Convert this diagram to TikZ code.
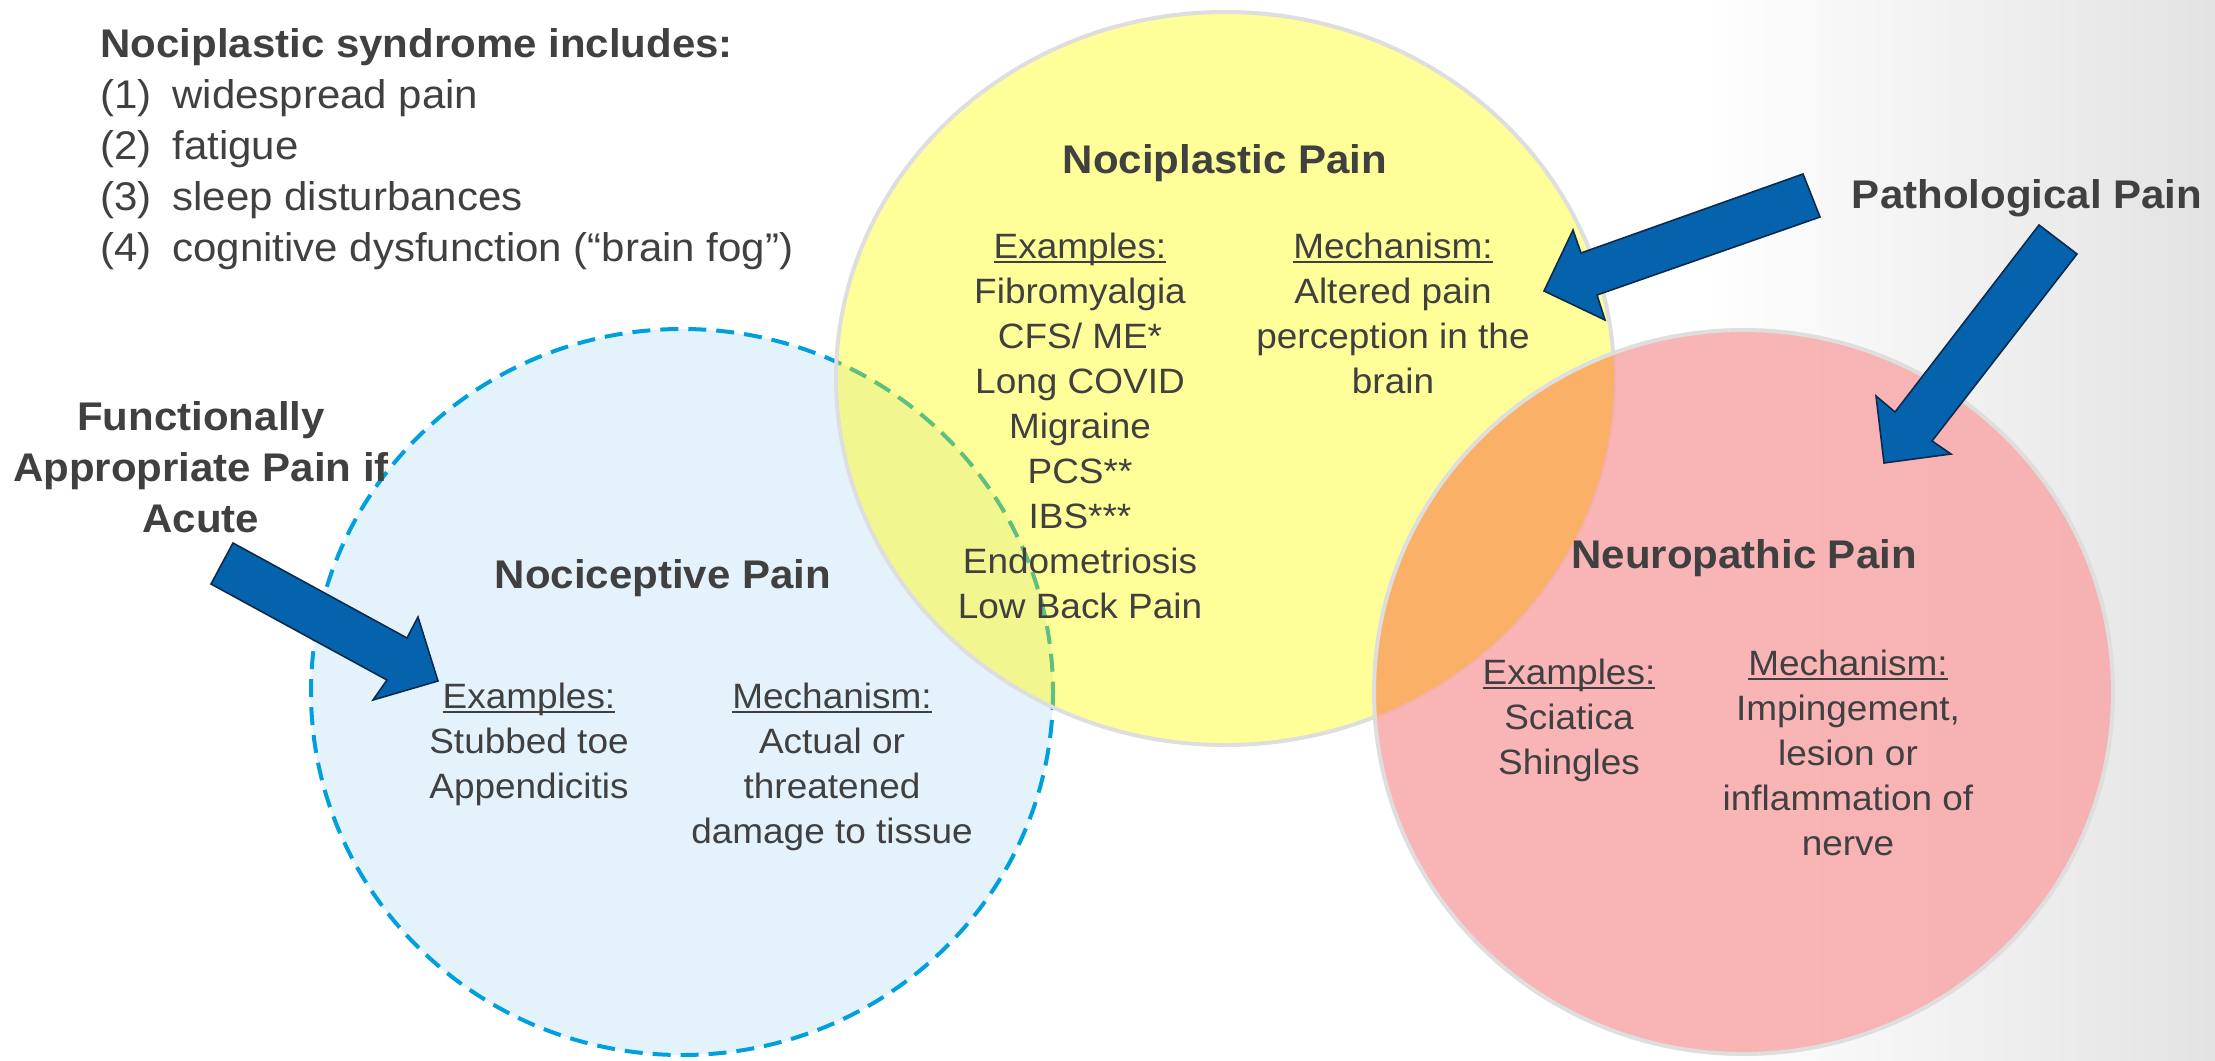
\documentclass[tikz,border=0pt]{standalone}
\usepackage{fontspec}
\setmainfont{Liberation Sans}[FakeStretch=1.05]

\definecolor{gristexte}{HTML}{404040}
\definecolor{jaune}{HTML}{FFFF99}
\definecolor{bleuclair}{HTML}{E4F3FB}
\definecolor{vertclair}{HTML}{F1F68E}
\definecolor{rose}{HTML}{F9A9A9}
\definecolor{orangeclair}{HTML}{FBB068}
\definecolor{bordgris}{HTML}{DEDEDE}
\definecolor{bleutiret}{HTML}{00A0DC}
\definecolor{verttiret}{HTML}{5EC07E}
\definecolor{bleufleche}{HTML}{0563AE}
\definecolor{bordfleche}{HTML}{0B2A4D}

\newcommand{\Souligne}[1]{\setbox0\hbox{#1}\rlap{\rule[-0.14em]{\wd0}{0.06em}}\box0}
\newcommand{\Bloc}[1]{\begin{tabular}[t]{@{}c@{}}#1\end{tabular}}
\newcommand{\Num}[1]{\makebox[36pt][l]{#1}}

\begin{document}
\begin{tikzpicture}[x=0.5pt,y=-0.5pt]
	\tikzstyle{titre}=[font=\bfseries\fontsize{20}{25.5}\selectfont,text=gristexte,inner sep=0pt,anchor=base]
	\tikzstyle{texte}=[font=\fontsize{17.6}{22.5}\selectfont,text=gristexte,inner sep=0pt,anchor=base]
	\tikzstyle{liste}=[font=\fontsize{20}{25.65}\selectfont,text=gristexte,inner sep=0pt,anchor=base west]
	\tikzstyle{fleche}=[fill=bleufleche,draw=bordfleche,line width=0.8pt,line join=miter]
	\tikzstyle{bord}=[draw=bordgris,line width=2pt]
	\tikzstyle{tirets}=[line width=2pt,dash pattern=on 9pt off 5pt]
	\def\RxJ{389}\def\RyJ{366.5}\def\RxB{371}\def\RyB{363}\def\RxR{369.5}\def\RyR{362}
	\useasboundingbox (0,0) rectangle (2215,1060);
	\fill[white] (0,0) rectangle (2215,1060);
	\shade[left color=white,right color=black!11] (1700,0) rectangle (2215,1060);
	\coordinate (CJ) at (1225,378.5);
	\coordinate (CB) at (682,692);
	\coordinate (CR) at (1743.5,692);
	% cercles
	\fill[bleuclair] (CB) ellipse [x radius=\RxB,y radius=\RyB];
	\draw[tirets,bleutiret] (CB) ellipse [x radius=\RxB,y radius=\RyB];
	\fill[jaune] (CJ) ellipse [x radius=\RxJ,y radius=\RyJ];
	\begin{scope}
		\clip (CJ) ellipse [x radius=\RxJ,y radius=\RyJ];
		\fill[vertclair] (CB) ellipse [x radius=\RxB,y radius=\RyB];
		\draw[tirets,verttiret] (CB) ellipse [x radius=\RxB,y radius=\RyB];
	\end{scope}
	\draw[bord] (CJ) ellipse [x radius=\RxJ,y radius=\RyJ];
	\fill[rose,fill opacity=0.85] (CR) ellipse [x radius=\RxR,y radius=\RyR];
	\begin{scope}
		\clip (CJ) ellipse [x radius=\RxJ,y radius=\RyJ];
		\fill[orangeclair] (CR) ellipse [x radius=\RxR,y radius=\RyR];
	\end{scope}
	\draw[bord] (CR) ellipse [x radius=\RxR,y radius=\RyR];
	% fleches
	\draw[fleche] (233,543) -- (407,638) -- (418,617) -- (438,681) -- (373,700) -- (387,680) -- (211,584) -- cycle;
	\draw[fleche] (1803,174) -- (1581,253) -- (1573,230) -- (1544,291) -- (1605,320) -- (1597,295) -- (1820,217) -- cycle;
	\draw[fleche] (2039,225) -- (1895,412) -- (1876,396) -- (1884,463) -- (1951,454) -- (1932,441) -- (2077,254) -- cycle;
	% textes
	\node[titre,anchor=base west] (Syndrome) at (100,57) {Nociplastic syndrome includes:};
	\node[liste] (SyndromeListe) at (100,108) {\begin{tabular}[t]{@{}l@{}}\Num{(1)}widespread pain\\\Num{(2)}fatigue\\\Num{(3)}sleep disturbances\\\Num{(4)}cognitive dysfunction (“brain fog”)\end{tabular}};
	\node[titre] (Fonctionnel) at (201,430) {\Bloc{Functionally\\Appropriate Pain if\\Acute}};
	\node[titre] (Pathologique) at (2027,208) {Pathological Pain};
	\node[titre] (TitreJ) at (1225,173) {Nociplastic Pain};
	\node[texte] (ExJ) at (1080,258) {\Bloc{\Souligne{Examples:}\\Fibromyalgia\\CFS/ ME*\\Long COVID\\Migraine\\PCS**\\IBS***\\Endometriosis\\Low Back Pain}};
	\node[texte] (MecaJ) at (1393,258) {\Bloc{\Souligne{Mechanism:}\\Altered pain\\perception in the\\brain}};
	\node[titre] (TitreB) at (663,588) {Nociceptive Pain};
	\node[texte] (ExB) at (529,708) {\Bloc{\Souligne{Examples:}\\Stubbed toe\\Appendicitis}};
	\node[texte] (MecaB) at (832,708) {\Bloc{\Souligne{Mechanism:}\\Actual or\\threatened\\damage to tissue}};
	\node[titre] (TitreR) at (1744,568) {Neuropathic Pain};
	\node[texte] (ExR) at (1569,684) {\Bloc{\Souligne{Examples:}\\Sciatica\\Shingles}};
	\node[texte] (MecaR) at (1848,675) {\Bloc{\Souligne{Mechanism:}\\Impingement,\\lesion or\\inflammation of\\nerve}};
\end{tikzpicture}
\end{document}
